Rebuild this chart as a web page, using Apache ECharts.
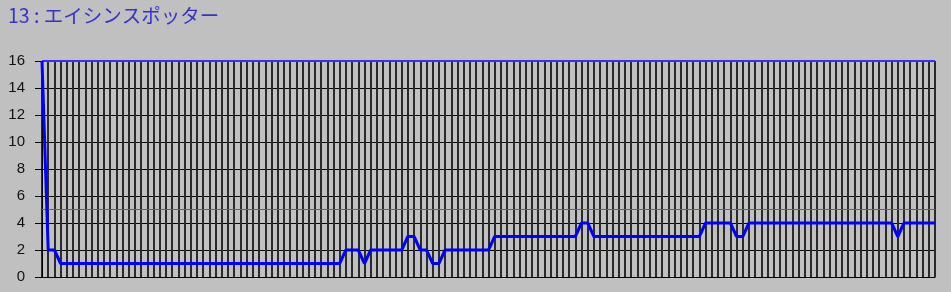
<!DOCTYPE html>
<html>
<head>
<meta charset="utf-8">
<script src="https://cdn.jsdelivr.net/npm/echarts@6/dist/echarts.min.js"></script>
<style>
html,body{margin:0;padding:0;background:#c0c0c0;}
#chart{width:951px;height:292px;}
</style>
</head>
<body>
<div id="chart"></div>
<script>
const titleText = '13 : エイシンスポッター';
const yTicks = [0, 2, 4, 6, 8, 10, 12, 14, 16];
const rankValues = [
  16, 2, 2, 1, 1, 1, 1, 1, 1, 1,   // 0-9
  1, 1, 1, 1, 1, 1, 1, 1, 1, 1,    // 10-19
  1, 1, 1, 1, 1, 1, 1, 1, 1, 1,    // 20-29
  1, 1, 1, 1, 1, 1, 1, 1, 1, 1,    // 30-39
  1, 1, 1, 1, 1, 1, 1, 1, 1, 2,    // 40-49
  2, 2, 1, 2, 2, 2, 2, 2, 2, 3,    // 50-59
  3, 2, 2, 1, 1, 2, 2, 2, 2, 2,    // 60-69
  2, 2, 2, 3, 3, 3, 3, 3, 3, 3,    // 70-79
  3, 3, 3, 3, 3, 3, 3, 4, 4, 3,    // 80-89
  3, 3, 3, 3, 3, 3, 3, 3, 3, 3,    // 90-99
  3, 3, 3, 3, 3, 3, 3, 4, 4, 4,    // 100-109
  4, 4, 3, 3, 4, 4, 4, 4, 4, 4,    // 110-119
  4, 4, 4, 4, 4, 4, 4, 4, 4, 4,    // 120-129
  4, 4, 4, 4, 4, 4, 4, 4, 3, 4,    // 130-139
  4, 4, 4, 4, 4                    // 140-144
];
const categories = rankValues.map((_, i) => String(i + 1));
const thresholdValue = 5;
const topValue = 16;

const chart = echarts.init(document.getElementById('chart'), null, {renderer: 'canvas'});
chart.setOption({
  backgroundColor: '#c0c0c0',
  animation: false,
  title: {
    text: titleText,
    left: 3,
    top: 1,
    textStyle: {
      fontFamily: '"Noto Sans CJK JP", sans-serif',
      fontSize: 19.5,
      fontWeight: 'normal',
      color: '#3333cc'
    }
  },
  grid: {left: 42, right: 16, top: 61, bottom: 15, containLabel: false},
  xAxis: {
    type: 'category',
    data: categories,
    boundaryGap: false,
    axisLine: {show: true, lineStyle: {color: '#000', width: 1}},
    axisTick: {show: false},
    axisLabel: {show: false},
    splitLine: {show: true, interval: 0, lineStyle: {color: '#2a2a2a', width: 2}}
  },
  yAxis: {
    type: 'value',
    min: yTicks[0],
    max: yTicks[yTicks.length - 1],
    interval: 2,
    axisLine: {show: true, lineStyle: {color: '#000', width: 1}},
    axisTick: {show: true, length: 7, lineStyle: {color: '#000'}},
    axisLabel: {
      margin: 17,
      fontFamily: '"Liberation Sans", Arial, sans-serif',
      fontSize: 15,
      color: '#111'
    },
    splitLine: {show: true, lineStyle: {color: '#000', width: 1}}
  },
  series: [{
    type: 'line',
    data: rankValues,
    symbol: 'none',
    lineStyle: {color: '#0000ff', width: 3},
    z: 5,
    markLine: {
      silent: true,
      symbol: 'none',
      label: {show: false},
      data: [
        {yAxis: thresholdValue, lineStyle: {color: '#ff2020', width: 1, type: 'solid'}},
        {yAxis: topValue, lineStyle: {color: '#3030ff', width: 2, type: 'solid'}}
      ]
    }
  }]
});
</script>
</body>
</html>
